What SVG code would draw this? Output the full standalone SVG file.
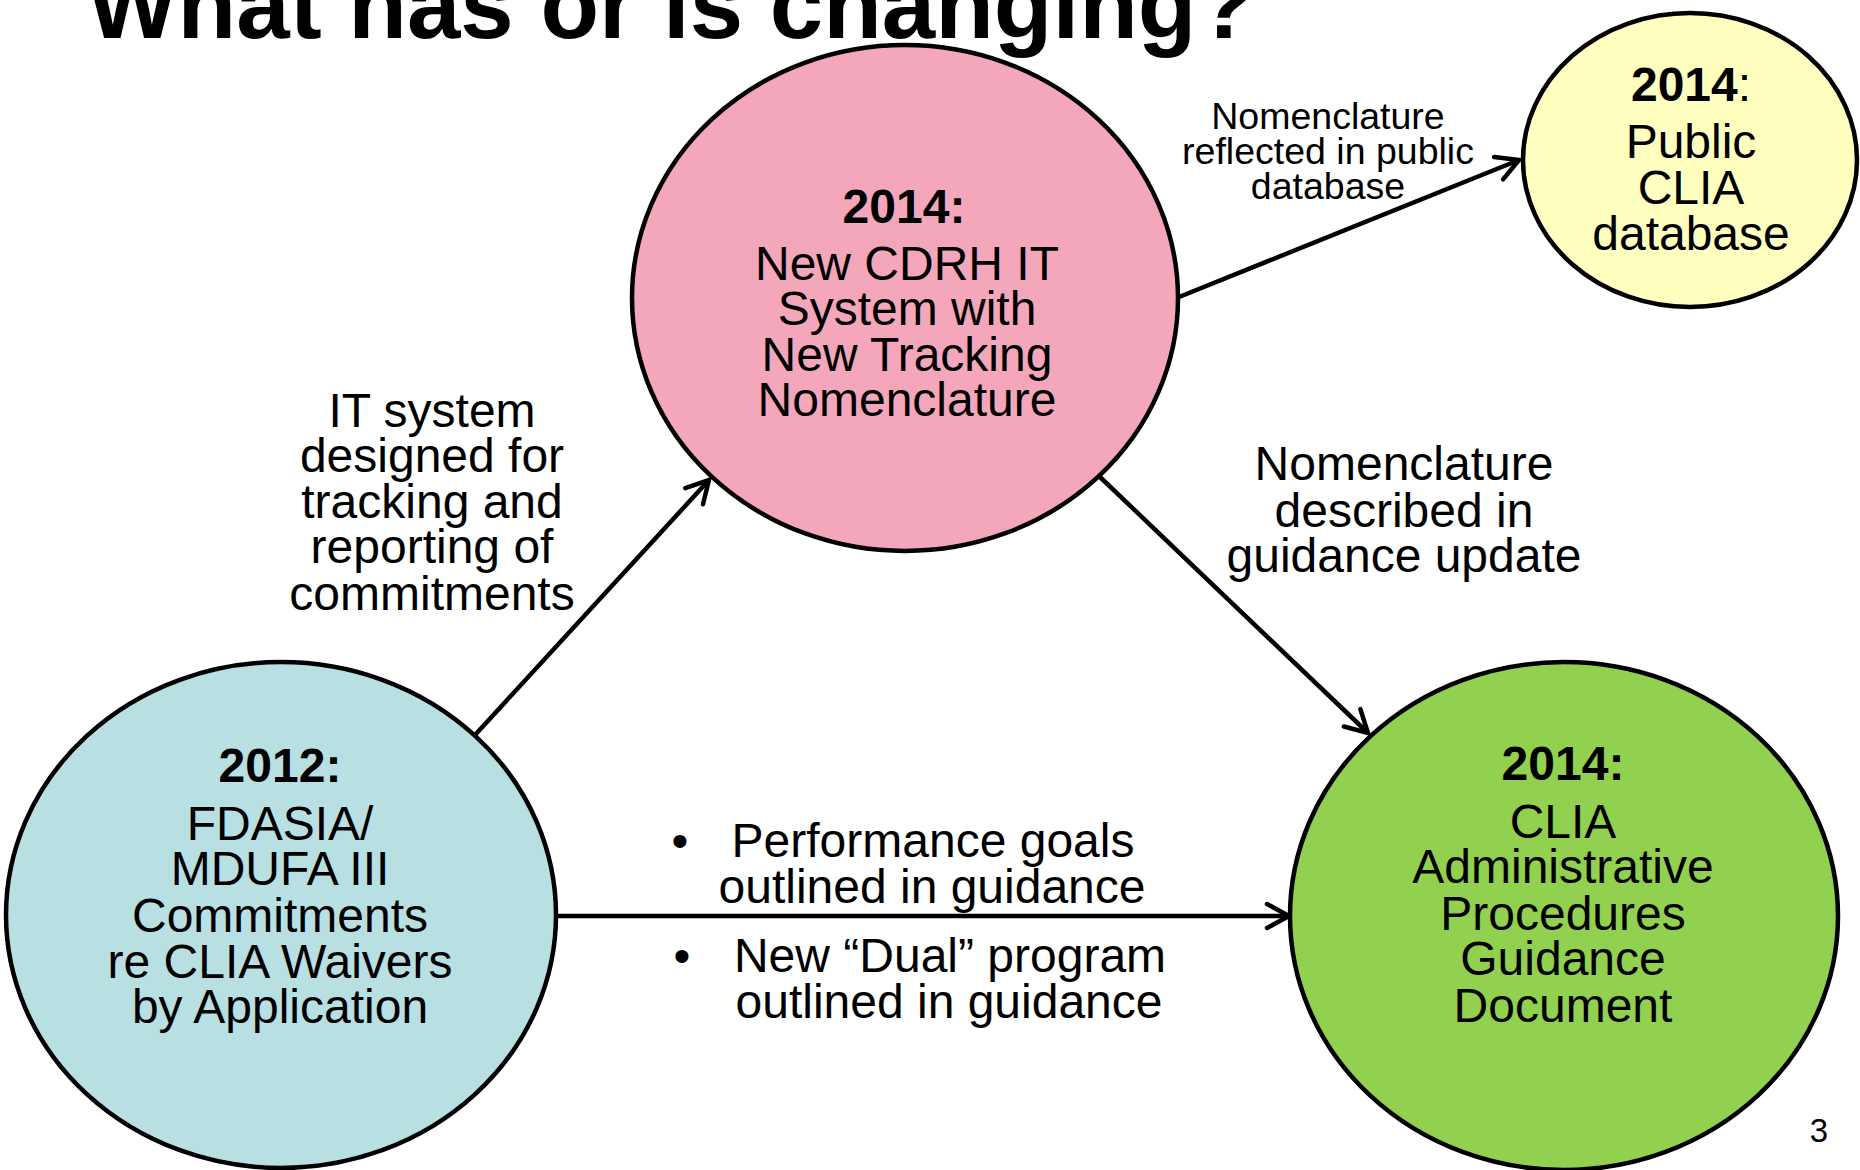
<svg xmlns="http://www.w3.org/2000/svg" width="1860" height="1170" viewBox="0 0 1860 1170">
  <style>
    text { font-family: "Liberation Sans", Arial, sans-serif; fill: #000; }
    .title { font-size: 96px; font-weight: bold; }
    .body { font-size: 48px; text-anchor: middle; }
    .small { font-size: 37.5px; text-anchor: middle; }
    .yr { font-weight: bold; }
    .node { stroke: #000; stroke-width: 4.5; }
    .edge { fill: none; stroke: #000; stroke-width: 4.5; marker-end: url(#arrow); }
  </style>
  <defs>
    <marker id="arrow" markerUnits="userSpaceOnUse" markerWidth="40" markerHeight="40" viewBox="-30 -20 40 40" refX="0" refY="0" orient="auto" overflow="visible">
      <path d="M-22,-12 L0,0 L-22,12" fill="none" stroke="#000" stroke-width="4.5" stroke-linecap="round" stroke-linejoin="miter"/>
    </marker>
  </defs>

  <rect x="0" y="0" width="1860" height="1170" fill="#fff"/>

  <text class="title" x="87" y="38">What has or is changing?</text>

  <!-- connectors -->
  <g id="connectors">
    <line class="edge" x1="475" y1="735" x2="709" y2="480"/>
    <line class="edge" x1="1179" y1="297" x2="1519" y2="160"/>
    <line class="edge" x1="1100" y1="477" x2="1368" y2="733"/>
    <line class="edge" x1="555" y1="916" x2="1289" y2="916"/>
  </g>

  <!-- edge labels -->
  <g id="label-it-system">
    <text class="body" x="432" y="427">IT system</text>
    <text class="body" x="432" y="472">designed for</text>
    <text class="body" x="432" y="518">tracking and</text>
    <text class="body" x="432" y="563">reporting of</text>
    <text class="body" x="432" y="610">commitments</text>
  </g>
  <g id="label-public-db">
    <text class="small" x="1328" y="129">Nomenclature</text>
    <text class="small" x="1328" y="164">reflected in public</text>
    <text class="small" x="1328" y="199">database</text>
  </g>
  <g id="label-guidance-update">
    <text class="body" x="1404" y="480">Nomenclature</text>
    <text class="body" x="1404" y="527">described in</text>
    <text class="body" x="1404" y="572">guidance update</text>
  </g>
  <g id="label-bullets">
    <text class="body" x="680" y="857">•</text>
    <text class="body" x="933" y="857">Performance goals</text>
    <text class="body" x="932" y="903">outlined in guidance</text>
    <text class="body" x="682" y="972">•</text>
    <text class="body" x="950" y="972">New “Dual” program</text>
    <text class="body" x="949" y="1018">outlined in guidance</text>
  </g>

  <!-- nodes -->
  <g id="node-2012">
    <ellipse class="node" cx="281" cy="915" rx="275" ry="253" fill="#B8DFE2"/>
    <text class="body yr" x="280" y="782">2012:</text>
    <text class="body" x="280" y="840">FDASIA/</text>
    <text class="body" x="280" y="885">MDUFA III</text>
    <text class="body" x="280" y="932">Commitments</text>
    <text class="body" x="280" y="978">re CLIA Waivers</text>
    <text class="body" x="280" y="1023">by Application</text>
  </g>

  <g id="node-it-system">
    <ellipse class="node" cx="905" cy="298" rx="273" ry="253" fill="#F4A7BB"/>
    <text class="body yr" x="904" y="223">2014:</text>
    <text class="body" x="907" y="280">New CDRH IT</text>
    <text class="body" x="907" y="325">System with</text>
    <text class="body" x="907" y="371">New Tracking</text>
    <text class="body" x="907" y="416">Nomenclature</text>
  </g>

  <g id="node-public-db">
    <ellipse class="node" cx="1690" cy="160" rx="167" ry="147" fill="#FFFFC0"/>
    <text class="body" x="1691" y="101"><tspan class="yr">2014</tspan>:</text>
    <text class="body" x="1691" y="158">Public</text>
    <text class="body" x="1691" y="204">CLIA</text>
    <text class="body" x="1691" y="250">database</text>
  </g>

  <g id="node-guidance">
    <ellipse class="node" cx="1564" cy="916" rx="274" ry="254" fill="#92D050"/>
    <text class="body yr" x="1563" y="780">2014:</text>
    <text class="body" x="1563" y="838">CLIA</text>
    <text class="body" x="1563" y="883">Administrative</text>
    <text class="body" x="1563" y="930">Procedures</text>
    <text class="body" x="1563" y="975">Guidance</text>
    <text class="body" x="1563" y="1022">Document</text>
  </g>

  <text x="1828" y="1142" font-size="33" text-anchor="end">3</text>
</svg>
